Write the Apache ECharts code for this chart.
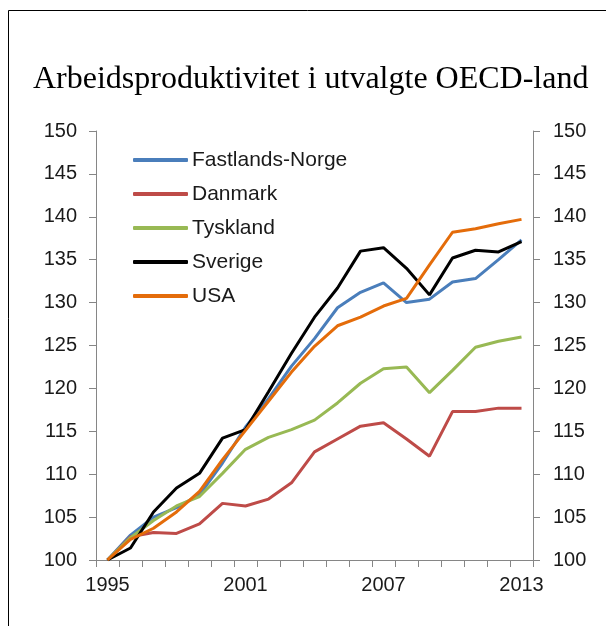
<!DOCTYPE html>
<html>
<head>
<meta charset="utf-8">
<script src="https://cdn.jsdelivr.net/npm/echarts@6/dist/echarts.min.js"></script>
<style>
html,body{margin:0;padding:0;background:#fff;}
#chart{width:606px;height:626px;}
</style>
</head>
<body>
<div id="chart"></div>
<script>
const years = ['1995','1996','1997','1998','1999','2000','2001','2002','2003','2004','2005','2006','2007','2008','2009','2010','2011','2012','2013'];
const fastlandsNorge = [100,102.9,105.0,106.1,107.6,111.3,115.5,118.8,122.6,125.8,129.4,131.2,132.3,130.0,130.4,132.4,132.8,135.0,137.3];
const danmark        = [100,102.7,103.2,103.1,104.2,106.6,106.3,107.1,109.0,112.6,114.1,115.6,116.0,114.1,112.1,117.3,117.3,117.7,117.7];
const tyskland       = [100,102.6,104.6,106.3,107.4,110.1,112.9,114.3,115.2,116.3,118.3,120.6,122.3,122.5,119.5,122.1,124.8,125.5,126.0];
const sverige        = [100,101.4,105.6,108.4,110.1,114.2,115.2,119.6,124.1,128.3,131.7,136.0,136.4,134.0,130.9,135.2,136.1,135.9,137.1];
const usa            = [100,102.4,103.7,105.6,108.0,111.7,115.1,118.5,121.9,124.9,127.3,128.3,129.6,130.5,134.4,138.2,138.6,139.2,139.7];
const seriesNames = ['Fastlands-Norge','Danmark','Tyskland','Sverige','USA'];
const seriesData = [fastlandsNorge, danmark, tyskland, sverige, usa];
const colors = ['#4A7EBB','#BE4B48','#98B954','#000000','#E46C0A'];

const chart = echarts.init(document.getElementById('chart'));
const axisLineStyle = {color:'#868686', width:1};
const labelStyle = {color:'#1a1a1a', fontSize:20, fontFamily:'Liberation Sans, Arial, sans-serif'};
chart.setOption({
  animation:false,
  backgroundColor:'#fff',
  color: colors,
  title:{
    text:'Arbeidsproduktivitet i utvalgte OECD-land',
    left:28, top:59,
    textStyle:{fontFamily:'Liberation Serif, Times New Roman, serif', fontWeight:'normal', fontSize:32, color:'#000'}
  },
  graphic:[{type:'rect', shape:{x:8.5,y:10.5,width:640,height:660}, style:{fill:'none', stroke:'#000', lineWidth:1}, silent:true}],
  legend:{
    orient:'vertical', left:128, top:143,
    data: seriesNames,
    icon:'roundRect', itemWidth:55, itemHeight:4, itemGap:10,
    textStyle:{fontSize:21, lineHeight:24, height:24, color:'#1a1a1a', fontFamily:'Liberation Sans, Arial, sans-serif', padding:[0,0,0,-1]}
  },
  grid:{left:96, right:73, top:131, bottom:66},
  xAxis:{
    type:'category', data:years, boundaryGap:true,
    axisLine:{lineStyle:axisLineStyle},
    axisTick:{show:true, interval:0, length:7, lineStyle:axisLineStyle},
    axisLabel:Object.assign({interval:5, margin:15}, labelStyle),
    splitLine:{show:false}
  },
  yAxis:[
    {type:'value', min:100, max:150, interval:5, position:'left',
     axisLine:{show:true, lineStyle:axisLineStyle},
     axisTick:{show:true, length:7, lineStyle:axisLineStyle},
     axisLabel:Object.assign({margin:19}, labelStyle),
     splitLine:{show:false}},
    {type:'value', min:100, max:150, interval:5, position:'right',
     axisLine:{show:true, lineStyle:axisLineStyle},
     axisTick:{show:true, length:7, lineStyle:axisLineStyle},
     axisLabel:Object.assign({margin:20}, labelStyle),
     splitLine:{show:false}}
  ],
  series: seriesNames.map((n,i)=>({
    name:n, type:'line', data:seriesData[i], yAxisIndex:0,
    showSymbol:false, symbol:'none',
    lineStyle:{width:3, color:colors[i]},
    itemStyle:{color:colors[i]}
  }))
});
</script>
</body>
</html>
